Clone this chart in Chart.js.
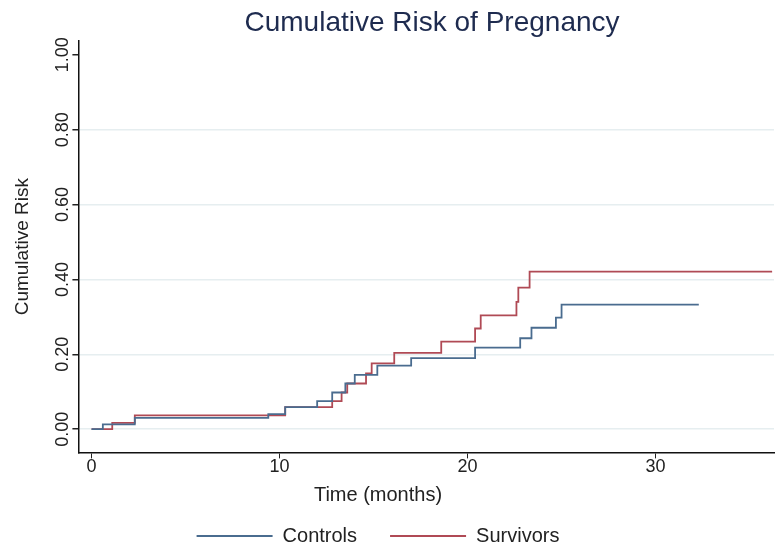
<!DOCTYPE html>
<html>
<head>
<meta charset="utf-8">
<script src="https://cdn.jsdelivr.net/npm/chart.js@4.4.1/dist/chart.umd.min.js"></script>
<style>
  html, body { margin: 0; padding: 0; background: #fff; }
</style>
</head>
<body>
<canvas id="chart" width="775" height="553"></canvas>
<script>
// step points (time in months, cumulative risk)
const controlTimes = [0, 0.6, 2.3, 9.4, 10.3, 12.0, 12.8, 13.5, 14.0, 15.2, 17.0, 20.4, 22.8, 23.4, 24.7, 25.0, 32.3];
const controlRisk  = [0, 0.013, 0.030, 0.040, 0.059, 0.075, 0.098, 0.122, 0.145, 0.170, 0.190, 0.218, 0.243, 0.271, 0.298, 0.333, 0.333];
const survivorTimes = [0, 1.1, 2.3, 10.3, 12.8, 13.3, 13.6, 14.6, 14.9, 16.1, 18.6, 20.4, 20.7, 22.6, 22.7, 23.3, 36.2];
const survivorRisk  = [0, 0.017, 0.037, 0.059, 0.075, 0.098, 0.122, 0.149, 0.176, 0.204, 0.234, 0.269, 0.304, 0.340, 0.378, 0.421, 0.421];
const xTicks = [0, 10, 20, 30];
const yTicks = [0, 0.2, 0.4, 0.6, 0.8, 1.0];

const toPoints = (xs, ys) => xs.map((x, i) => ({ x: x, y: ys[i] }));

const font = "'Liberation Sans', Arial, sans-serif";

// main title sits over the plot region; legend and x title sit a bit left of canvas centre
const plotTitle = {
    id: 'plotTitle',
    afterLayout(chart) {
        [chart.legend, chart.titleBlock].forEach(box => {
            if (box) { box.left -= 11; box.right -= 11; }
        });
    },
    afterDraw(chart) {
        const ctx = chart.ctx;
        ctx.save();
        ctx.font = '28px ' + font;
        ctx.fillStyle = '#1e2b4f';
        ctx.textAlign = 'center';
        ctx.textBaseline = 'middle';
        ctx.fillText('Cumulative Risk of Pregnancy', 432, 23);
        ctx.restore();
    }
};

new Chart(document.getElementById('chart'), {
    type: 'line',
    data: {
        datasets: [{
            label: 'Controls',
            data: toPoints(controlTimes, controlRisk),
            borderColor: '#4a6c8f',
            backgroundColor: '#4a6c8f',
            borderWidth: 1.8,
            stepped: 'before',
            pointRadius: 0,
            fill: false
        }, {
            label: 'Survivors',
            data: toPoints(survivorTimes, survivorRisk),
            borderColor: '#b04a55',
            backgroundColor: '#b04a55',
            borderWidth: 1.8,
            stepped: 'before',
            pointRadius: 0,
            fill: false
        }]
    },
    options: {
        responsive: false,
        animation: false,
        layout: { padding: { top: 41, right: 1, left: 4, bottom: -3 } },
        scales: {
            x: {
                type: 'linear',
                min: -0.7,
                max: 36.3,
                afterBuildTicks: axis => { axis.ticks = xTicks.map(v => ({ value: v })); },
                ticks: { color: '#222', font: { family: font, size: 18 }, padding: -2, maxRotation: 0 },
                grid: { drawOnChartArea: false, drawTicks: true, tickLength: 6, tickColor: '#222' },
                border: { display: true, color: '#111', width: 1.5 }
            },
            y: {
                min: -0.062,
                max: 1.037,
                afterBuildTicks: axis => { axis.ticks = yTicks.map(v => ({ value: v })); },
                ticks: {
                    color: '#222',
                    font: { family: font, size: 18 },
                    minRotation: 90,
                    maxRotation: 90,
                    crossAlign: 'center',
                    padding: -8,
                    callback: v => v.toFixed(2)
                },
                grid: {
                    color: ctx => (ctx.tick && ctx.tick.value === 1) ? 'rgba(0,0,0,0)' : '#e6eef0',
                    lineWidth: 1.5,
                    drawTicks: true,
                    tickLength: 6,
                    tickColor: '#222'
                },
                border: { display: true, color: '#111', width: 1.5 },
                title: {
                    display: true,
                    text: 'Cumulative Risk',
                    color: '#222',
                    font: { family: font, size: 19 },
                    padding: { top: 7, bottom: 33 }
                }
            }
        },
        plugins: {
            title: {
                display: true,
                position: 'bottom',
                weight: 500,
                text: 'Time (months)',
                color: '#222',
                font: { family: font, size: 20, weight: 'normal' },
                padding: { top: 7, bottom: -14 }
            },
            legend: {
                position: 'bottom',
                labels: {
                    usePointStyle: true,
                    pointStyle: 'line',
                    pointStyleWidth: 76,
                    color: '#222',
                    font: { family: font, size: 20 },
                    padding: 33
                }
            },
            tooltip: { enabled: false }
        }
    },
    plugins: [plotTitle]
});
</script>
</body>
</html>
